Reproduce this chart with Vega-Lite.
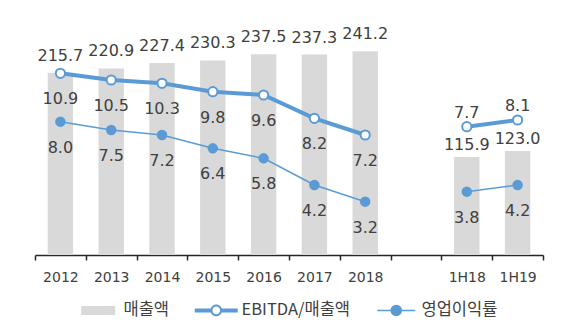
{
  "$schema": "https://vega.github.io/schema/vega-lite/v6.json",
  "autosize": {"type": "none"},
  "padding": {"left": 35, "top": 10, "right": 40, "bottom": 74},
  "width": 508,
  "height": 245,
  "background": "white",
  "config": {
    "view": {"stroke": null},
    "font": "DejaVu Sans, Noto Sans CJK KR",
    "text": {"font": "DejaVu Sans, Noto Sans CJK KR", "fontSize": 16, "fill": "#404040"}
  },
  "data": {
    "values": [
      {"cat": "2012", "grp": "annual", "sales": 215.7, "ebitda": 10.9, "op": 8.0},
      {"cat": "2013", "grp": "annual", "sales": 220.9, "ebitda": 10.5, "op": 7.5},
      {"cat": "2014", "grp": "annual", "sales": 227.4, "ebitda": 10.3, "op": 7.2},
      {"cat": "2015", "grp": "annual", "sales": 230.3, "ebitda": 9.8, "op": 6.4},
      {"cat": "2016", "grp": "annual", "sales": 237.5, "ebitda": 9.6, "op": 5.8},
      {"cat": "2017", "grp": "annual", "sales": 237.3, "ebitda": 8.2, "op": 4.2},
      {"cat": "2018", "grp": "annual", "sales": 241.2, "ebitda": 7.2, "op": 3.2},
      {"cat": "1H18", "grp": "half", "sales": 115.9, "ebitda": 7.7, "op": 3.8},
      {"cat": "1H19", "grp": "half", "sales": 123.0, "ebitda": 8.1, "op": 4.2}
    ]
  },
  "encoding": {
    "x": {
      "field": "cat",
      "type": "nominal",
      "sort": null,
      "scale": {"domain": ["2012", "2013", "2014", "2015", "2016", "2017", "2018", " ", "1H18", "1H19"], "paddingInner": 0, "paddingOuter": 0},
      "axis": {
        "title": null,
        "labelAngle": 0,
        "tickBand": "extent",
        "tickSize": 5,
        "ticks": true,
        "domain": true,
        "tickColor": "#262626",
        "tickWidth": 1.5,
        "domainColor": "#262626",
        "domainWidth": 1.5,
        "labelFont": "DejaVu Sans",
        "labelFontSize": 14,
        "labelColor": "#404040",
        "labelPadding": 10,
        "grid": false
      }
    }
  },
  "layer": [
    {
      "mark": {"type": "bar", "width": {"band": 0.5}, "fill": "#d9d9d9"},
      "encoding": {
        "y": {"field": "sales", "type": "quantitative", "scale": {"domain": [0, 290]}, "axis": null},
        "color": {
          "datum": "매출액",
          "scale": {"domain": ["매출액", "EBITDA/매출액", "영업이익률"], "range": ["#d9d9d9", "#5b9bd5", "#5b9bd5"]},
          "legend": {
            "title": null,
            "orient": "none",
            "legendX": 55,
            "legendY": 292,
            "direction": "horizontal",
            "columns": 3,
            "columnPadding": 24,
            "symbolSize": 6400,
            "labelFont": "Noto Sans CJK KR",
            "labelFontSize": 16.5,
            "labelColor": "#404040",
            "labelOffset": 17,
            "encode": {
              "symbols": {
                "update": {
                  "shape": {"signal": "datum.value === '매출액' ? 'M-0.425,-0.1125H0.425V0.1125H-0.425Z' : (datum.value === 'EBITDA/매출액' ? 'M-0.5375,-0.05H-0.125V0.05H-0.5375ZM0.125,-0.05H0.5375V0.05H0.125ZM0.145,0A0.145,0.145,0,1,1,-0.145,0A0.145,0.145,0,1,1,0.145,0ZM0.095,0A0.095,0.095,0,1,0,-0.095,0A0.095,0.095,0,1,0,0.095,0Z' : 'M-0.475,0H0.475M0.125,0A0.125,0.125,0,1,1,-0.125,0A0.125,0.125,0,1,1,0.125,0Z')"},
                  "fill": {"signal": "datum.value === '매출액' ? '#d9d9d9' : '#5b9bd5'"},
                  "stroke": {"signal": "datum.value === '영업이익률' ? '#5b9bd5' : null"},
                  "strokeWidth": {"signal": "datum.value === '영업이익률' ? 1.5 : 0"},
                  "opacity": {"value": 1},
                  "fillOpacity": {"value": 1},
                  "strokeOpacity": {"value": 1}
                }
              }
            }
          }
        }
      }
    },
    {
      "transform": [{"filter": "datum.grp === 'annual'"}],
      "mark": {"type": "text", "baseline": "middle", "dy": -17},
      "encoding": {
        "y": {"field": "sales", "type": "quantitative", "scale": {"domain": [0, 290]}, "axis": null},
        "text": {"field": "sales", "type": "quantitative", "format": ".1f"}
      }
    },
    {
      "transform": [{"filter": "datum.grp === 'half'"}],
      "mark": {"type": "text", "baseline": "middle", "dy": -12},
      "encoding": {
        "y": {"field": "sales", "type": "quantitative", "scale": {"domain": [0, 290]}, "axis": null},
        "text": {"field": "sales", "type": "quantitative", "format": ".1f"}
      }
    },
    {
      "mark": {"type": "line", "strokeWidth": 4},
      "encoding": {
        "y": {"field": "ebitda", "type": "quantitative", "scale": {"domain": [0, 14.7]}, "axis": null},
        "detail": {"field": "grp"},
        "color": {"datum": "EBITDA/매출액"}
      }
    },
    {
      "mark": {"type": "point", "filled": true, "fill": "white", "stroke": "#5b9bd5", "strokeWidth": 2, "size": 85, "opacity": 1},
      "encoding": {
        "y": {"field": "ebitda", "type": "quantitative", "scale": {"domain": [0, 14.7]}, "axis": null}
      }
    },
    {
      "transform": [{"filter": "datum.grp === 'annual'"}],
      "mark": {"type": "text", "baseline": "middle", "dy": 26},
      "encoding": {
        "y": {"field": "ebitda", "type": "quantitative", "scale": {"domain": [0, 14.7]}, "axis": null},
        "text": {"field": "ebitda", "type": "quantitative", "format": ".1f"}
      }
    },
    {
      "transform": [{"filter": "datum.grp === 'half'"}],
      "mark": {"type": "text", "baseline": "middle", "dy": -14},
      "encoding": {
        "y": {"field": "ebitda", "type": "quantitative", "scale": {"domain": [0, 14.7]}, "axis": null},
        "text": {"field": "ebitda", "type": "quantitative", "format": ".1f"}
      }
    },
    {
      "mark": {"type": "line", "strokeWidth": 1.5},
      "encoding": {
        "y": {"field": "op", "type": "quantitative", "scale": {"domain": [0, 14.7]}, "axis": null},
        "detail": {"field": "grp"},
        "color": {"datum": "영업이익률"}
      }
    },
    {
      "mark": {"type": "point", "filled": true, "fill": "#5b9bd5", "size": 110, "opacity": 1},
      "encoding": {
        "y": {"field": "op", "type": "quantitative", "scale": {"domain": [0, 14.7]}, "axis": null}
      }
    },
    {
      "mark": {"type": "text", "baseline": "middle", "dy": 26},
      "encoding": {
        "y": {"field": "op", "type": "quantitative", "scale": {"domain": [0, 14.7]}, "axis": null},
        "text": {"field": "op", "type": "quantitative", "format": ".1f"}
      }
    }
  ],
  "resolve": {"scale": {"y": "independent"}}
}
